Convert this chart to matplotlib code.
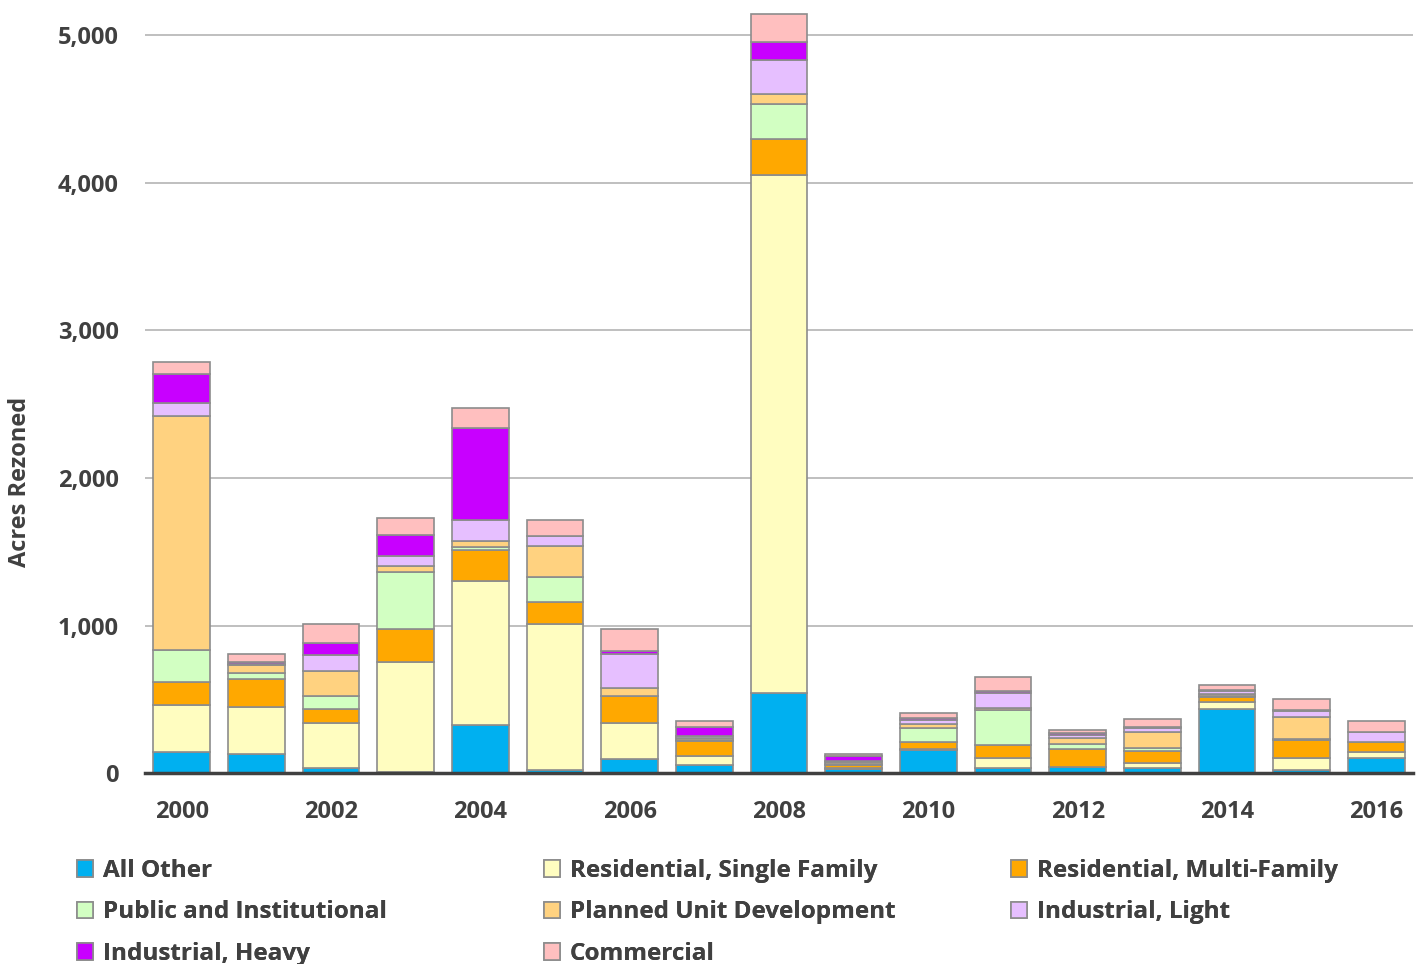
"""
Acres rezoned per year, stacked by zoning category
"""

import matplotlib.pyplot as plt
from matplotlib.patches import Patch

years = list(range(2000, 2017))

# Acres per zoning category, one value per year
all_other = [144, 129, 36, 10, 328, 23, 95, 54, 540, 25, 160, 32, 39, 32, 432, 20, 100]
single_family = [321, 320, 305, 745, 973, 989, 244, 59, 3516, 8, 5, 72, 5, 34, 47, 83, 45]
multi_family = [153, 188, 91, 220, 213, 146, 183, 104, 244, 20, 45, 86, 122, 85, 39, 120, 64]
public_inst = [215, 43, 90, 390, 15, 174, 0, 10, 237, 10, 95, 237, 29, 16, 5, 5, 0]
planned_unit = [1585, 52, 171, 41, 45, 210, 54, 13, 68, 12, 27, 16, 41, 115, 10, 149, 0]
industrial_light = [90, 10, 106, 66, 142, 68, 228, 10, 226, 10, 25, 98, 22, 22, 22, 45, 68]
industrial_heavy = [196, 10, 83, 142, 620, 0, 27, 61, 124, 28, 15, 16, 16, 7, 8, 5, 0]
commercial = [81, 55, 129, 113, 140, 106, 144, 41, 187, 18, 35, 97, 16, 55, 34, 75, 77]

series = [
    ('All Other', all_other, '#00B0F0'),
    ('Residential, Single Family', single_family, '#FFFDC0'),
    ('Residential, Multi-Family', multi_family, '#FFA800'),
    ('Public and Institutional', public_inst, '#D2FFC2'),
    ('Planned Unit Development', planned_unit, '#FFD280'),
    ('Industrial, Light', industrial_light, '#E6BFFF'),
    ('Industrial, Heavy', industrial_heavy, '#C800FF'),
    ('Commercial', commercial, '#FFBFBF'),
]

plt.rcParams['font.family'] = ['Open Sans', 'DejaVu Sans']
text_color = '#404040'
font_size = 17

fig = plt.figure(figsize=(14.22, 9.64), dpi=100)
ax = fig.add_axes([0.102, 0.198, 0.8917, 0.796])

# Stack the bars from the bottom category upwards
x = list(range(len(years)))
bottom = [0] * len(years)
handles = {}
for name, values, color in series:
    ax.bar(x, values, width=0.76, bottom=bottom, color=color,
           edgecolor='#8c8c8c', linewidth=1.2, zorder=3)
    bottom = [b + v for b, v in zip(bottom, values)]
    handles[name] = Patch(facecolor=color, edgecolor='#8c8c8c', linewidth=1.2)

ax.set_xlim(-0.49, 16.49)
ax.set_ylim(0, 5200)
ax.set_yticks(range(0, 5001, 1000))
ax.set_yticklabels([f'{v:,}' for v in range(0, 5001, 1000)])
ax.set_xticks(x[::2])
ax.set_xticklabels([str(y) for y in years[::2]])
ax.tick_params(axis='both', length=0, labelsize=font_size, labelcolor=text_color)
ax.tick_params(axis='y', pad=19)
ax.tick_params(axis='x', pad=19)
for lbl in ax.get_xticklabels() + ax.get_yticklabels():
    lbl.set_fontweight('bold')

ax.grid(axis='y', color='#bfbfbf', linewidth=1.4, zorder=0)
for side in ['top', 'right', 'left']:
    ax.spines[side].set_visible(False)
ax.spines['bottom'].set_color('#404040')
ax.spines['bottom'].set_linewidth(2.5)
ax.spines['bottom'].set_zorder(4)

fig.text(20 / 1422, 1 - 482 / 964, 'Acres Rezoned', rotation=90, ha='center',
         va='center', fontsize=font_size, fontweight='bold', color=text_color)

# Three legend columns, filled row by row
columns = [
    ['All Other', 'Public and Institutional', 'Industrial, Heavy'],
    ['Residential, Single Family', 'Planned Unit Development', 'Commercial'],
    ['Residential, Multi-Family', 'Industrial, Light'],
]
col_x = [77, 544, 1011]
for cx, names in zip(col_x, columns):
    leg = fig.legend([handles[n] for n in names], names, loc='upper left',
                     bbox_to_anchor=(cx / 1422, 1 - 859 / 964), frameon=False,
                     handlelength=0.65, handleheight=0.65,
                     handletextpad=0.4, labelspacing=0.72, borderaxespad=0,
                     borderpad=0, labelcolor=text_color,
                     prop={'weight': 'bold', 'size': 17.5})
    fig.add_artist(leg)

fig.savefig('out.png', dpi=100)
